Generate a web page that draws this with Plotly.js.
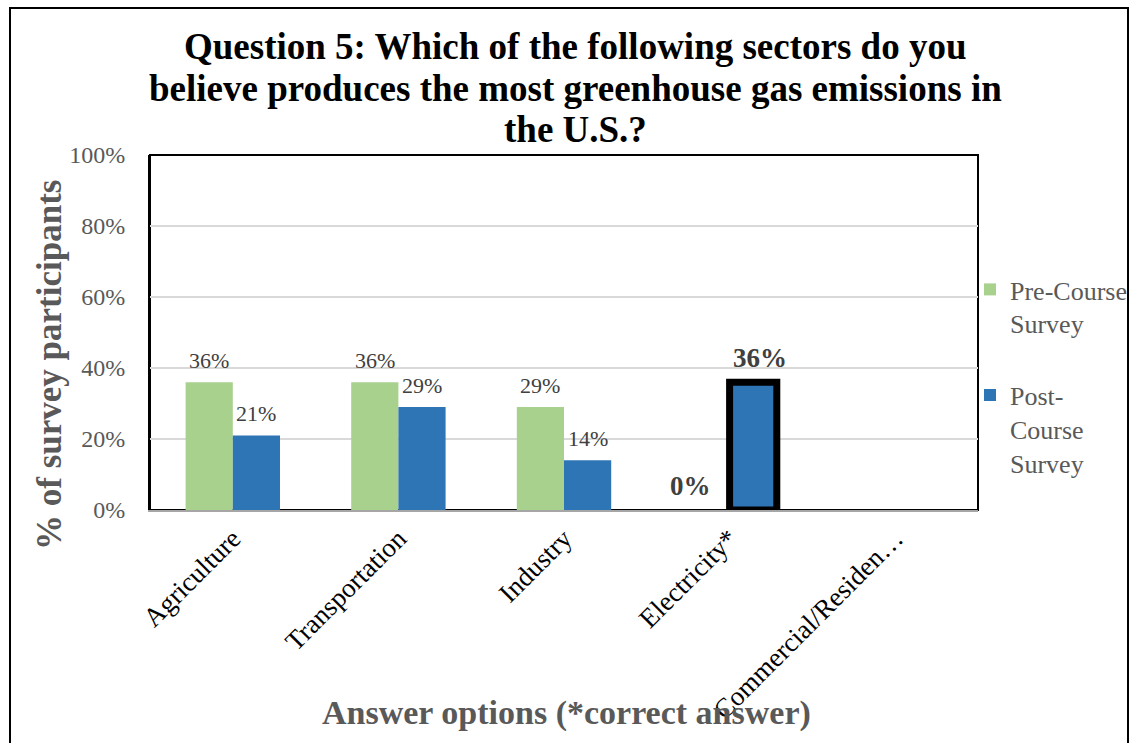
<!DOCTYPE html>
<html>
<head>
<meta charset="utf-8">
<script src="https://cdn.plot.ly/plotly-3.0.1.min.js"></script>
<style>
  html, body { margin: 0; padding: 0; background: #ffffff; }
  #chart { width: 1136px; height: 743px; }
</style>
</head>
<body>
<div id="chart"></div>
<script>
// Survey answers, share of participants (%)
const categories = ['Agriculture', 'Transportation', 'Industry', 'Electricity*', 'Commercial/Residential'];
const tickLabels = ['Agriculture', 'Transportation', 'Industry', 'Electricity*', 'Commercial/Residen\u2026'];
const preCourse = [36, 36, 29, 0, null];
const postCourse = [21, 29, 14, 36, null];
const seriesNames = ['Pre-Course<br>Survey', 'Post-<br>Course<br>Survey'];
const titleLines = [
  'Question 5: Which of the following sectors do you',
  'believe produces the most greenhouse gas emissions in',
  'the U.S.?'
];
const yTitle = '% of survey participants';
const xTitle = 'Answer options (*correct answer)';
const correctAnswer = 'Electricity*';

// Page geometry
const W = 1136, H = 743;
const M = { l: 150, r: 158, t: 155, b: 233 };
const plotW = W - M.l - M.r, plotH = H - M.t - M.b;
const px2x = px => (px - M.l) / plotW;
const py2y = py => (H - M.b - py) / plotH;

const serif = 'Liberation Serif, Times New Roman, serif';
const gray = '#595959';
const labelGray = '#404040';
const colors = ['#A9D18E', '#2E75B6'];
const bargap = 0.43;

const isCorrect = categories.map(c => c === correctAnswer);

const traces = [preCourse, postCourse].map((vals, i) => ({
  type: 'bar',
  name: seriesNames[i],
  legendgroup: 'g' + i,
  x: categories,
  y: vals,
  marker: {
    color: colors[i],
    line: {
      color: '#000000',
      width: isCorrect.map(c => (c && i === 1) ? 7 : 0)
    }
  },
  hoverinfo: 'x+y'
}));

// Data labels above each bar
const catWidth = plotW / categories.length;
const barHalf = catWidth * (1 - bargap) / 4;
const annotations = [];
[preCourse, postCourse].forEach((vals, i) => {
  vals.forEach((v, j) => {
    if (v === null) return;
    const strong = isCorrect[j];
    const nudge = strong ? (i === 0 ? -16 : 7) : 0;
    annotations.push({
      x: categories[j], y: v, xref: 'x', yref: 'y',
      text: strong ? '<b>' + v + '%</b>' : v + '%',
      showarrow: false,
      xshift: (i === 0 ? -barHalf : barHalf) + nudge,
      yshift: strong ? 24 : 22,
      yanchor: 'middle',
      font: { family: serif, size: strong ? 27 : 22, color: labelGray }
    });
  });
});

// Three-line chart title
const titleCenters = [47, 88, 129];
titleLines.forEach((line, k) => {
  annotations.push({
    x: px2x(575), y: py2y(titleCenters[k]), xref: 'paper', yref: 'paper',
    text: '<b>' + line + '</b>', showarrow: false,
    xanchor: 'center', yanchor: 'middle',
    font: { family: serif, size: 37, color: '#000000' }
  });
});

// Axis titles
annotations.push({
  x: px2x(49), y: py2y(365), xref: 'paper', yref: 'paper',
  text: '<b>' + yTitle + '</b>', showarrow: false, textangle: -90,
  xanchor: 'center', yanchor: 'middle',
  font: { family: serif, size: 35, color: gray }
});
annotations.push({
  x: px2x(566), y: py2y(713), xref: 'paper', yref: 'paper',
  text: '<b>' + xTitle + '</b>', showarrow: false,
  xanchor: 'center', yanchor: 'middle',
  font: { family: serif, size: 34, color: gray }
});

const layout = {
  width: W, height: H,
  margin: M,
  paper_bgcolor: '#ffffff',
  plot_bgcolor: '#ffffff',
  barmode: 'group',
  bargap: bargap,
  bargroupgap: 0,
  showlegend: true,
  legend: {
    xref: 'container', yref: 'container',
    x: (W - M.r) / W, y: 1 - 266 / H, xanchor: 'left', yanchor: 'top',
    bgcolor: 'rgba(0,0,0,0)',
    font: { family: serif, size: 26, color: gray },
    valign: 'top',
    itemwidth: 30,
    indentation: -8,
    tracegroupgap: 35,
    traceorder: 'grouped'
  },
  xaxis: {
    type: 'category',
    tickvals: categories,
    ticktext: tickLabels,
    tickangle: -45,
    tickfont: { family: serif, size: 27, color: '#000000' },
    showline: true, linecolor: '#A6A6A6', linewidth: 2,
    ticks: '', showgrid: false,
    automargin: false
  },
  yaxis: {
    range: [0, 100],
    dtick: 20,
    ticksuffix: '%',
    tickfont: { family: serif, size: 24, color: gray },
    showgrid: true, gridcolor: '#D9D9D9', gridwidth: 2,
    zeroline: false,
    showline: true, linecolor: '#000000', linewidth: 2,
    ticks: '', ticklabelstandoff: 18,
    automargin: false
  },
  annotations: annotations,
  shapes: [
    // plot area frame
    { type: 'rect', xref: 'paper', yref: 'paper', x0: 0, x1: 1, y0: 0, y1: 1,
      line: { color: '#000000', width: 2 }, layer: 'below' },
    // outer chart border
    { type: 'rect', xref: 'paper', yref: 'paper',
      x0: px2x(10), x1: px2x(1128), y0: py2y(800), y1: py2y(8),
      line: { color: '#000000', width: 2 }, layer: 'below' }
  ]
};

Plotly.newPlot('chart', traces, layout, { displayModeBar: false, staticPlot: true });
</script>
</body>
</html>
